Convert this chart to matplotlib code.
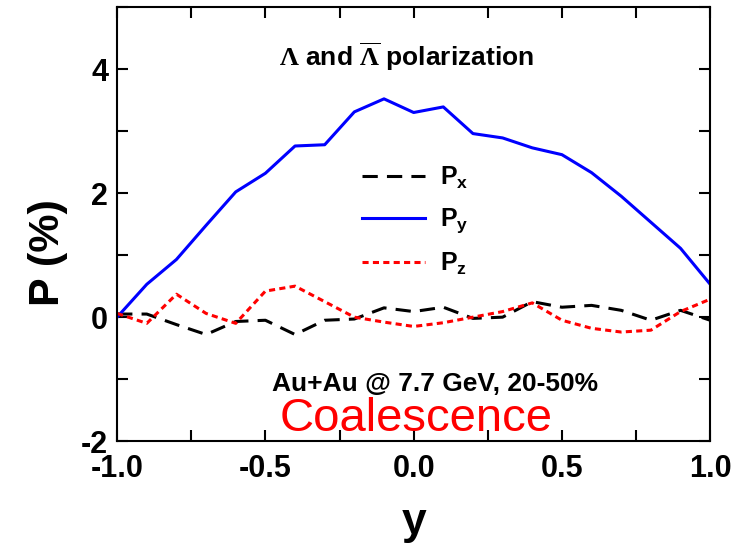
import matplotlib
matplotlib.use("Agg")
import matplotlib.pyplot as plt
from matplotlib.ticker import MultipleLocator

plt.rcParams['font.family'] = ['Liberation Sans', 'DejaVu Sans']
plt.rcParams['font.weight'] = 'bold'
plt.rcParams['mathtext.fontset'] = 'custom'
plt.rcParams['mathtext.rm'] = 'Liberation Sans'
plt.rcParams['mathtext.bf'] = 'Liberation Sans:bold'
plt.rcParams['mathtext.it'] = 'Liberation Sans:italic'
plt.rcParams['mathtext.sf'] = 'Liberation Serif'

# rapidity bins
rapidity = [-1.0, -0.9, -0.8, -0.7, -0.6, -0.5, -0.4, -0.3, -0.2, -0.1, 0.0,
            0.1, 0.2, 0.3, 0.4, 0.5, 0.6, 0.7, 0.8, 0.9, 1.0]
# polarization components (%)
p_x = [0.05, 0.05, -0.12, -0.28, -0.07, -0.05, -0.28, -0.05, -0.03, 0.15, 0.09,
       0.16, -0.02, 0.0, 0.25, 0.16, 0.19, 0.11, -0.05, 0.11, -0.05]
p_y = [0.0, 0.53, 0.93, 1.48, 2.02, 2.32, 2.76, 2.78, 3.31, 3.52, 3.30,
       3.39, 2.96, 2.89, 2.73, 2.62, 2.33, 1.95, 1.53, 1.11, 0.53]
p_z = [0.06, -0.10, 0.37, 0.06, -0.10, 0.42, 0.50, 0.25, 0.0, -0.08, -0.15,
       -0.09, 0.0, 0.09, 0.23, -0.05, -0.18, -0.24, -0.21, 0.09, 0.29]

x_ticks = [-1.0, -0.5, 0.0, 0.5, 1.0]
x_ticklabels = ['-1.0', '-0.5', '0.0', '0.5', '1.0']
y_ticks = [-2, 0, 2, 4]
y_ticklabels = ['-2', '0', '2', '4']

fig = plt.figure(figsize=(7.46, 5.44), dpi=100)
ax = fig.add_axes([0.157, 0.189, 0.795, 0.798])

ax.plot(rapidity, p_x, color='black', lw=2.2, dashes=(5, 3), label=r'$\mathbf{P}_{\mathbf{x}}$')
ax.plot(rapidity, p_y, color='#0000ff', lw=2.2, label=r'$\mathbf{P}_{\mathbf{y}}$')
ax.plot(rapidity, p_z, color='red', lw=2.2, dashes=(2, 1.4), label=r'$\mathbf{P}_{\mathbf{z}}$')

ax.set_xlim(-1.0, 1.0)
ax.set_ylim(-2, 5)
ax.xaxis.set_minor_locator(MultipleLocator(0.25))
ax.yaxis.set_minor_locator(MultipleLocator(1))
ax.set_xticks(x_ticks)
ax.set_xticklabels(x_ticklabels)
ax.set_yticks(y_ticks)
ax.set_yticklabels(y_ticklabels)
ax.tick_params(which='both', direction='in', top=True, right=True, length=8, width=1.5)
ax.tick_params(axis='x', labelsize=22, pad=9)
ax.tick_params(axis='y', labelsize=22, pad=6.5)
for s in ax.spines.values():
    s.set_linewidth(1.5)

ax.set_xlabel('y', fontsize=32, fontweight='bold')
ax.xaxis.set_label_coords(0.5, -0.187)
ax.xaxis.label.set_va('center')
ax.set_ylabel('P (%)', fontsize=31, fontweight='bold')
ax.yaxis.set_label_coords(-0.116, 0.435)
ax.yaxis.label.set_va('center')

ax.text(0.488, 0.885, r'$\mathsf{\Lambda}$ and $\mathsf{\overline{\Lambda}}$ polarization',
        transform=ax.transAxes, ha='center', va='center', fontsize=19, fontweight='bold')
ax.text(0.536, 0.131, 'Au+Au @ 7.7 GeV, 20-50%', transform=ax.transAxes,
        ha='center', va='center', fontsize=19, fontweight='bold')
ax.text(0.504, 0.05, 'Coalescence', transform=ax.transAxes, ha='center', va='center',
        fontsize=34, fontweight='normal', color='red')

ax.legend(loc='upper left', bbox_to_anchor=(0.413, 0.636), frameon=False, fontsize=18,
          handlelength=2.5, labelspacing=0.62, handletextpad=0.6,
          borderpad=0, borderaxespad=0)

fig.savefig('out.png', dpi=100)
